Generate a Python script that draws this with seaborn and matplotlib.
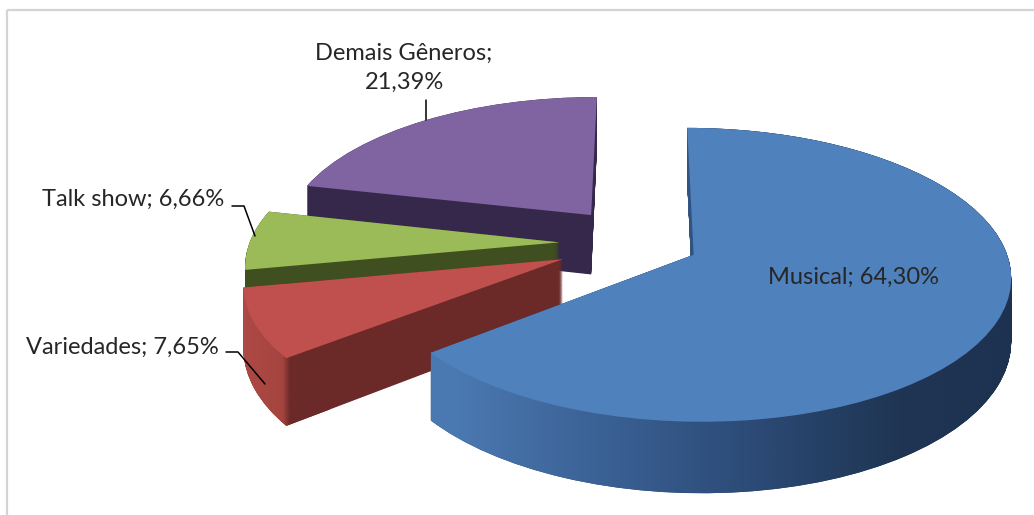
import numpy as np
import matplotlib
matplotlib.use("Agg")
import matplotlib.pyplot as plt
import seaborn as sns
from matplotlib.path import Path
from matplotlib.patches import PathPatch, Rectangle
from matplotlib.colors import LinearSegmentedColormap
from matplotlib.transforms import Transform

# dados
generos = ['Musical', 'Variedades', 'Talk show', 'Demais Gêneros']
percentuais = [64.30, 7.65, 6.66, 21.39]
rotulos = ['Musical; 64,30%', 'Variedades; 7,65%', 'Talk show; 6,66%',
           'Demais Gêneros;\n21,39%']

# estilo
cores_topo = ['#4f81bd', '#c0504d', '#9bbb59', '#8064a2']
cores_lado = ['#223b5e', '#6b2a28', '#404f1f', '#35284a']
afastamento = [0.19, 0.27, 0.26, 0.26]
ordem_z = [3, 2, 1, 0]  # Demais atras, Musical na frente

sns.set_style('white')
plt.rcParams['font.family'] = ['Lato', 'DejaVu Sans']

W, H = 1034, 515

# perspectiva simples do plano da pizza para pixels
CX, CY, A, B, K, D = 640, 243, 310, 141, 0.135, 61


class Perspectiva(Transform):
    input_dims = output_dims = 2
    is_separable = False
    has_inverse = False

    def __init__(self, z=0.0):
        super().__init__()
        self.z = z

    def transform_non_affine(self, v):
        v = np.asarray(v, float)
        x, y = v[:, 0], v[:, 1]
        den = 1 + K * y
        return np.column_stack([CX + A * x / den, CY - (B * y - D * self.z) / den])


fig = plt.figure(figsize=(W / 100, H / 100), dpi=100)
ax = fig.add_axes([0, 0, 1, 1])

# laterais: varias copias da pizza empilhadas para baixo
camadas = {i: [] for i in range(len(percentuais))}
for z in np.linspace(1, 0, 100):
    persp = Perspectiva(z)
    fatias, _ = ax.pie(percentuais, explode=afastamento, colors=cores_lado,
                       startangle=90, counterclock=False,
                       wedgeprops=dict(linewidth=0))
    for i, w in enumerate(fatias):
        w.set_transform(persp + ax.transData)
        w.set_zorder(ordem_z[i] * 10 + 1)
        camadas[i].append(persp.transform_path(w.get_path()))

# degrade nas laterais do Musical e Variedades
degrades = {
    0: ([(0, '#4b7ab2'), (0.12, '#4a78b0'), (0.35, '#3a6094'), (0.6, '#2a4872'),
         (0.8, '#1f3553'), (1, '#1d3250')], 380, 1030),
    1: ([(0, '#b24c47'), (0.55, '#a5443f'), (0.62, '#6b2a28'), (1, '#6b2a28')],
        225, 330),
}
for i, (cs, x0, x1) in degrades.items():
    clip = PathPatch(Path.make_compound_path(*camadas[i]),
                     transform=ax.transData, fc='none', ec='none')
    grad = np.linspace(0, 1, 512).reshape(1, -1)
    ax.imshow(grad, cmap=LinearSegmentedColormap.from_list('g%d' % i, cs),
              extent=(x0, x1, H, 0), aspect='auto', zorder=ordem_z[i] * 10 + 2,
              clip_path=clip, interpolation='bilinear')

# faces de cima
persp = Perspectiva(0)
fatias, _ = ax.pie(percentuais, explode=afastamento, colors=cores_topo,
                   startangle=90, counterclock=False,
                   wedgeprops=dict(linewidth=0))
for i, w in enumerate(fatias):
    w.set_transform(persp + ax.transData)
    w.set_zorder(ordem_z[i] * 10 + 3)

ax.set_aspect('auto')
ax.set_xlim(0, W)
ax.set_ylim(H, 0)
ax.axis('off')

# rotulos
fs = 17
ax.text(854, 277, rotulos[0], ha='center', va='center', fontsize=fs, zorder=100)
ax.text(219, 347, rotulos[1], ha='right', va='center', fontsize=fs)
ax.text(224, 199, rotulos[2], ha='right', va='center', fontsize=fs)
ax.text(404, 68, rotulos[3], ha='center', va='center', fontsize=fs,
        linespacing=1.45, multialignment='center')

# linhas de chamada
for pts in [[(226, 352), (238, 352), (265, 384)],
            [(232, 206), (244, 206), (255, 236)],
            [(426, 100), (426, 120)]]:
    xs, ys = zip(*pts)
    ax.plot(xs, ys, color='black', lw=1.1, zorder=100)

# borda da area do grafico
ax.add_patch(Rectangle((7, 10), 1100, 600, fill=False, ec='#d4d4d4', lw=1.6))

fig.savefig('out.png', dpi=100)
